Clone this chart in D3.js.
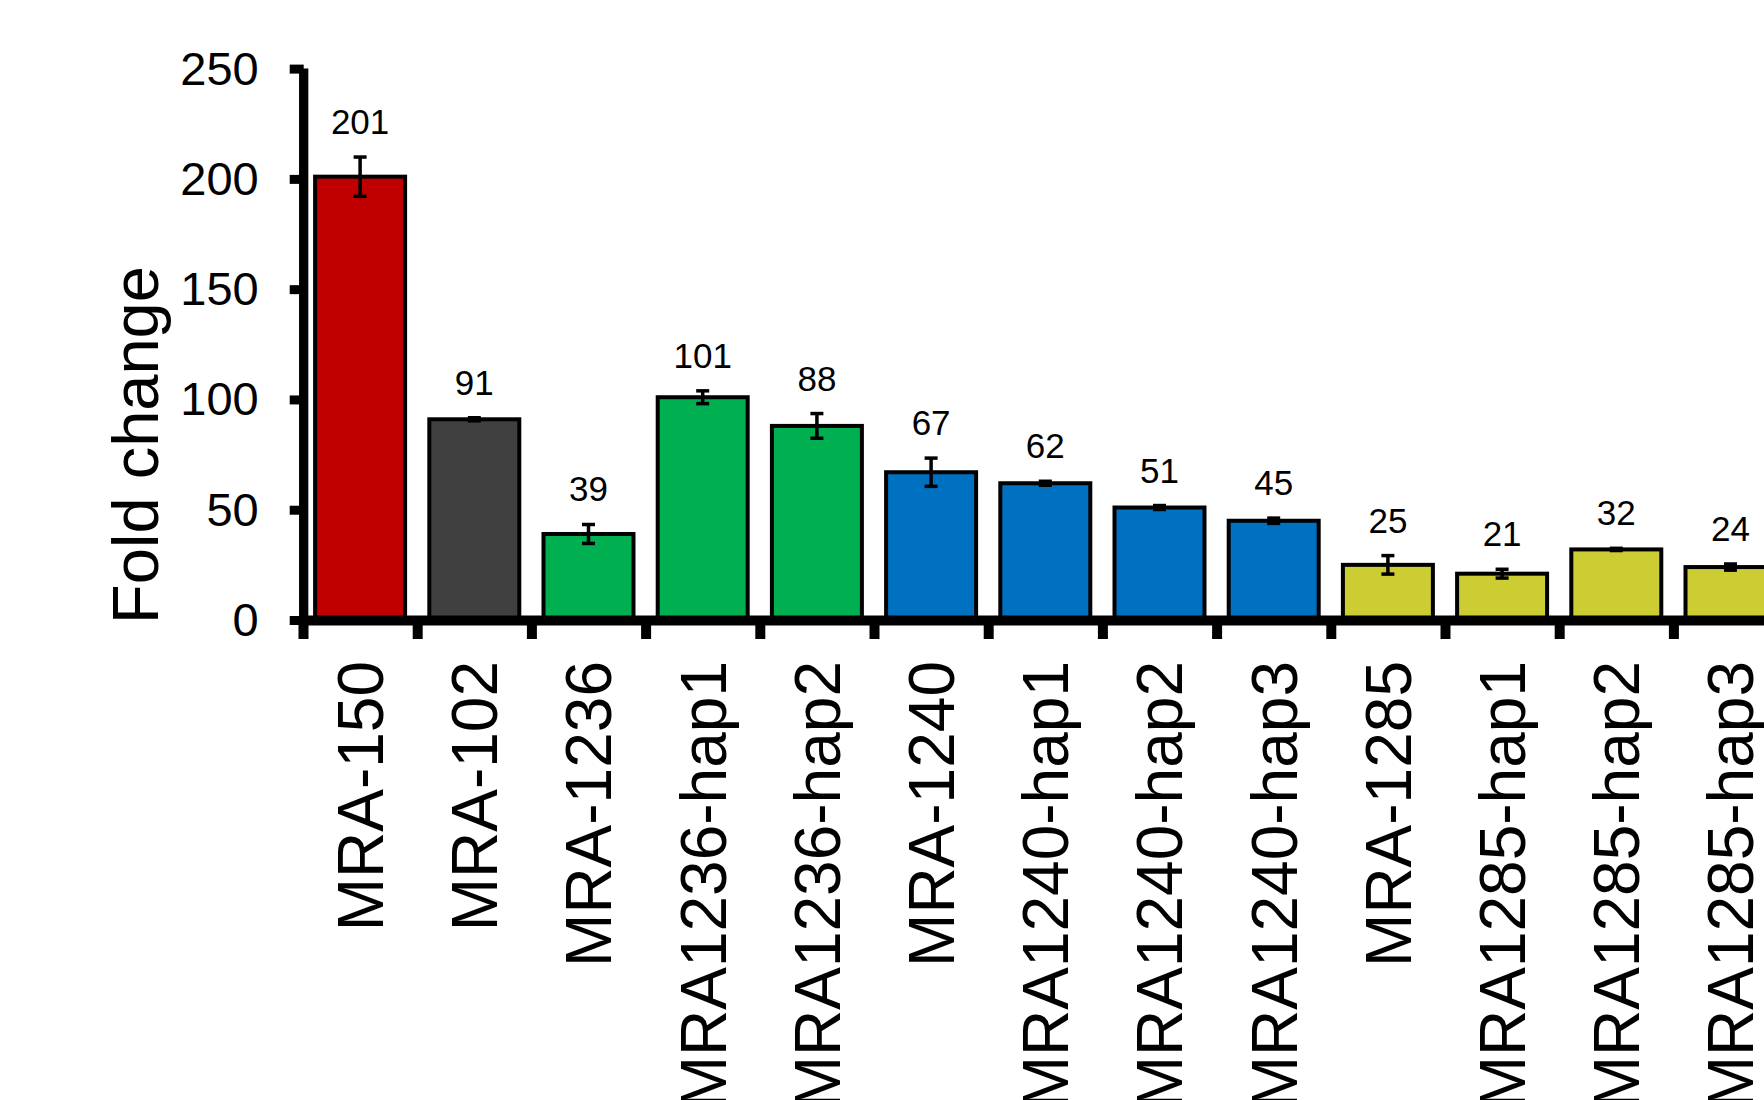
<!DOCTYPE html>
<html>
<head>
<meta charset="utf-8">
<script src="https://cdn.jsdelivr.net/npm/d3@7"></script>
<style>
  html, body { margin: 0; padding: 0; background: #ffffff; }
  svg { display: block; }
  text { font-family: "Liberation Sans", Arial, Helvetica, sans-serif; fill: #000; }
</style>
</head>
<body>
<svg id="chart" width="1764" height="1100"></svg>
<script>
// Constructs and their fold change (mean ± error)
const categories = [
  "MRA-150", "MRA-102", "MRA-1236", "MRA1236-hap1", "MRA1236-hap2",
  "MRA-1240", "MRA1240-hap1", "MRA1240-hap2", "MRA1240-hap3",
  "MRA-1285", "MRA1285-hap1", "MRA1285-hap2", "MRA1285-hap3"
];
const values = [201, 91, 39, 101, 88, 67, 62, 51, 45, 25, 21, 32, 24];
const errors = [8.9, 0.7, 4.3, 2.9, 5.6, 6.4, 0.9, 0.9, 1.2, 4.2, 2.0, 0.5, 1.4];
const groups = [
  "MRA-150", "MRA-102", "MRA-1236", "MRA-1236", "MRA-1236",
  "MRA-1240", "MRA-1240", "MRA-1240", "MRA-1240",
  "MRA-1285", "MRA-1285", "MRA-1285", "MRA-1285"
];
const groupNames = ["MRA-150", "MRA-102", "MRA-1236", "MRA-1240", "MRA-1285"];
const groupColors = ["#C00000", "#404040", "#00B050", "#0070C0", "#CCCC33"];
const yTicks = [0, 50, 100, 150, 200, 250];

const data = categories.map((c, i) => ({ c, v: values[i], e: errors[i], g: groups[i] }));

const svg = d3.select("#chart");

const x0 = 303, step = 114.2;
const x = d3.scaleBand()
  .domain(categories)
  .range([x0, x0 + step * categories.length])
  .paddingInner(0.212)
  .paddingOuter(0.106);

const y = d3.scaleLinear().domain([0, 250]).range([620, 68.6]);

const color = d3.scaleOrdinal().domain(groupNames).range(groupColors);

// Bars
svg.append("g")
  .selectAll("rect")
  .data(data)
  .join("rect")
  .attr("x", d => x(d.c))
  .attr("y", d => y(d.v))
  .attr("width", x.bandwidth())
  .attr("height", d => y(0) - y(d.v))
  .attr("fill", d => color(d.g))
  .attr("stroke", "#000")
  .attr("stroke-width", 4);

// Error bars
const eg = svg.append("g").attr("stroke", "#000").attr("stroke-width", 3.5);
data.forEach(d => {
  const cx = x(d.c) + x.bandwidth() / 2;
  const top = y(d.v + d.e), bot = y(d.v - d.e);
  eg.append("line").attr("x1", cx).attr("x2", cx).attr("y1", top).attr("y2", bot);
  eg.append("line").attr("x1", cx - 6.5).attr("x2", cx + 6.5).attr("y1", top).attr("y2", top);
  eg.append("line").attr("x1", cx - 6.5).attr("x2", cx + 6.5).attr("y1", bot).attr("y2", bot);
});

// Value labels
svg.append("g")
  .selectAll("text")
  .data(data)
  .join("text")
  .attr("x", d => x(d.c) + x.bandwidth() / 2)
  .attr("y", d => y(d.v + d.e) - 23)
  .attr("text-anchor", "middle")
  .style("font-size", "35px")
  .text(d => d.v);

// Y axis
const yAxis = svg.append("g")
  .attr("transform", "translate(303.7,0)")
  .call(d3.axisLeft(y).tickValues(yTicks).tickSize(14).tickSizeOuter(0).tickPadding(31));
yAxis.select(".domain").attr("stroke", "#000").attr("stroke-width", 9.3)
  .attr("d", `M0,${y(250)}V${y(0) + 5}`);
yAxis.selectAll(".tick line").attr("stroke", "#000").attr("stroke-width", 9);
yAxis.selectAll(".tick text")
  .style("font-size", "47px")
  .attr("dy", "0.33em")
  .style("font-family", "'Liberation Sans', Arial, sans-serif");

// X axis: line and boundary ticks between categories
const xb = d3.scaleLinear().domain([0, categories.length]).range(x.range());
const xAxis = svg.append("g")
  .attr("transform", `translate(0,${y(0)})`)
  .call(d3.axisBottom(xb).tickValues(d3.range(0, categories.length + 1)).tickSize(19).tickSizeOuter(0).tickFormat(""));
xAxis.select(".domain").attr("stroke", "#000").attr("stroke-width", 10);
xAxis.selectAll(".tick line").attr("stroke", "#000").attr("stroke-width", 10);

// Category labels, rotated
svg.append("g")
  .selectAll("text")
  .data(categories)
  .join("text")
  .attr("transform", c => `translate(${x(c) + x.bandwidth() / 2},661) rotate(-90)`)
  .attr("text-anchor", "end")
  .attr("dy", "0.358em")
  .style("font-size", "64px")
  .text(c => c);

// Y axis title
svg.append("text")
  .attr("transform", "translate(158,445) rotate(-90)")
  .attr("text-anchor", "middle")
  .style("font-size", "65px")
  .text("Fold change");
</script>
</body>
</html>
